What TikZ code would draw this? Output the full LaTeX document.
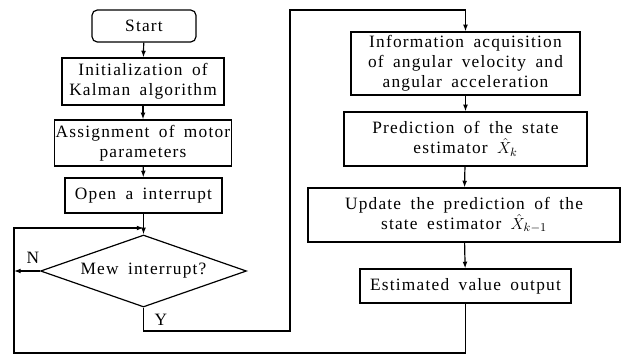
\documentclass[tikz,border=0pt]{standalone}
\usepackage{fontspec}
\setmainfont{Liberation Serif}[LetterSpace=7, WordSpace=1.7]
\usetikzlibrary{arrows.meta,shapes.geometric}
\tikzset{
  fbox/.style={rectangle, draw=black, line width=0.9pt, fill=white, align=center,
               inner sep=1pt, font=\fontsize{13}{15}\selectfont},
  tbox/.style={fbox, rounded corners=4pt},                           % terminal
  dbox/.style={diamond, aspect=2.86, draw=black, line width=0.9pt, inner sep=0pt,
               font=\fontsize{13}{15}\selectfont},                   % decision
  fl/.style={draw=black, line width=0.9pt, -{Latex[length=5pt,width=3.6pt]}}, % flow line
  pl/.style={draw=black, line width=0.9pt},                          % plain line
  lbl/.style={font=\fontsize{13}{15}\selectfont, inner sep=0pt},
}

\begin{document}
\begin{tikzpicture}[x=0.75pt, y=-0.75pt]
  \useasboundingbox (0,0) rectangle (621,355);
  \node[tbox, minimum width=104*0.75pt, minimum height=32*0.75pt] (S) at (144,26) {Start};
  \node[fbox, minimum width=162*0.75pt, minimum height=47*0.75pt] (I) at (143,81.5)
    {Initialization of\\Kalman algorithm};
  \node[fbox, minimum width=176*0.75pt, minimum height=46*0.75pt] (A) at (143,143)
    {Assignment of motor\\parameters};
  \node[fbox, minimum width=157*0.75pt, minimum height=35*0.75pt] (O) at (143.5,195.5)
    {Open a interrupt};
  \node[dbox, minimum width=206*0.75pt, minimum height=72*0.75pt] (D) at (143.5,271)
    {Mew interrupt?};
  \node[fbox, minimum width=229*0.75pt, minimum height=63*0.75pt] (Q) at (465.5,63.5)
    {Information acquisition\\of angular velocity and\\angular acceleration};
  \node[fbox, minimum width=243*0.75pt, minimum height=54*0.75pt] (P) at (465.5,139)
    {Prediction of the state\\estimator $\hat{X}_k$};
  \node[fbox, minimum width=312*0.75pt, minimum height=54*0.75pt] (U) at (464,215)
    {Update the prediction of the\\state estimator $\hat{X}_{k-1}$};
  \node[fbox, minimum width=211*0.75pt, minimum height=34*0.75pt] (E) at (465.5,286)
    {Estimated value output};

  \coordinate (join) at (143.5,228);
  \coordinate (nend) at (14,271);
  \coordinate (ybot) at (143.5,331);
  \coordinate (yr) at (290,331);
  \coordinate (ytop) at (290,10);
  \coordinate (lbot) at (14,353);

  \foreach \u/\v in {S/I,I/A,A/O,O/D,Q/P,P/U,U/E} \draw[fl] (\u)--(\v);
  \draw[fl] (D.west) -- (nend);
  \draw[fl] (D.south) -- (ybot) -- (yr) -- (ytop) -- (ytop -| Q.north) -- (Q.north);
  \draw[fl] (E.south) -- (E.south |- lbot) -- (lbot) -- (lbot |- join) -- (join);

  \node[lbl] (n) at (33,258) {N};
  \node[lbl] (y) at (161,320) {Y};
\end{tikzpicture}
\end{document}
